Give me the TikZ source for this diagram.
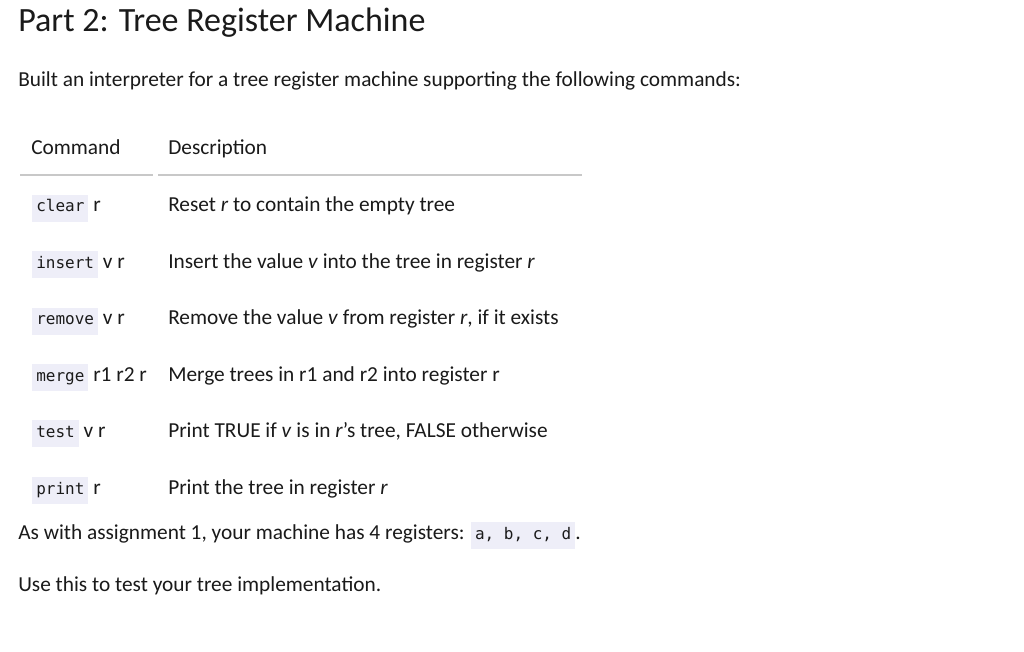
\documentclass[tikz,border=0pt]{standalone}
\usepackage{fontspec}
\setmainfont{Carlito}
\setmonofont{DejaVu Sans Mono}
\definecolor{codebg}{HTML}{EEEEF8}
\definecolor{txt}{HTML}{1A1A1A}
\definecolor{rule}{HTML}{C8C8C8}
\newcommand\cde[1]{{\setlength\fboxsep{3pt}\colorbox{codebg}{\ttfamily\fontsize{12}{14}\selectfont\strut #1}}}
\begin{document}
\begin{tikzpicture}[x=0.75pt,y=-0.75pt,
  t/.style={anchor=base west,inner sep=0pt,text=txt,font=\fontsize{16}{19}\selectfont}]
\useasboundingbox[fill=white] (0,0) rectangle (1024,652);
\node[t,font=\fontsize{25.5}{30}\selectfont] (h) at (18,32) {Part 2: Tree Register Machine};
\node[t] (p1) at (18,87) {Built an interpreter for a tree register machine supporting the following commands:};
\node[t] (c1) at (31,155) {Command};
\node[t] (c2) at (168,155) {Description};
\draw[rule,line width=1.2pt] (20,175) -- (153,175);
\draw[rule,line width=1.2pt] (158,175) -- (582,175);
\node[t] (r1a) at (32,212) {\cde{clear} r};
\node[t] (r1b) at (168,212) {Reset \textit{r} to contain the empty tree};
\node[t] (r2a) at (32,268) {\cde{insert} v r};
\node[t] (r2b) at (168,268) {Insert the value \textit{v} into the tree in register \textit{r}};
\node[t] (r3a) at (32,325) {\cde{remove} v r};
\node[t] (r3b) at (168,325) {Remove the value \textit{v} from register \textit{r}, if it exists};
\node[t] (r4a) at (32,381) {\cde{merge} r1 r2 r};
\node[t] (r4b) at (168,381) {Merge trees in r1 and r2 into register r};
\node[t] (r5a) at (32,437) {\cde{test} v r};
\node[t] (r5b) at (168,437) {Print TRUE if \textit{v} is in \textit{r}'s tree, FALSE otherwise};
\node[t] (r6a) at (32,494) {\cde{print} r};
\node[t] (r6b) at (168,494) {Print the tree in register \textit{r}};
\node[t] (p2) at (18,539) {As with assignment 1, your machine has 4 registers: \cde{a, b, c, d}.};
\node[t] (p3) at (18,591) {Use this to test your tree implementation.};
\end{tikzpicture}
\end{document}
